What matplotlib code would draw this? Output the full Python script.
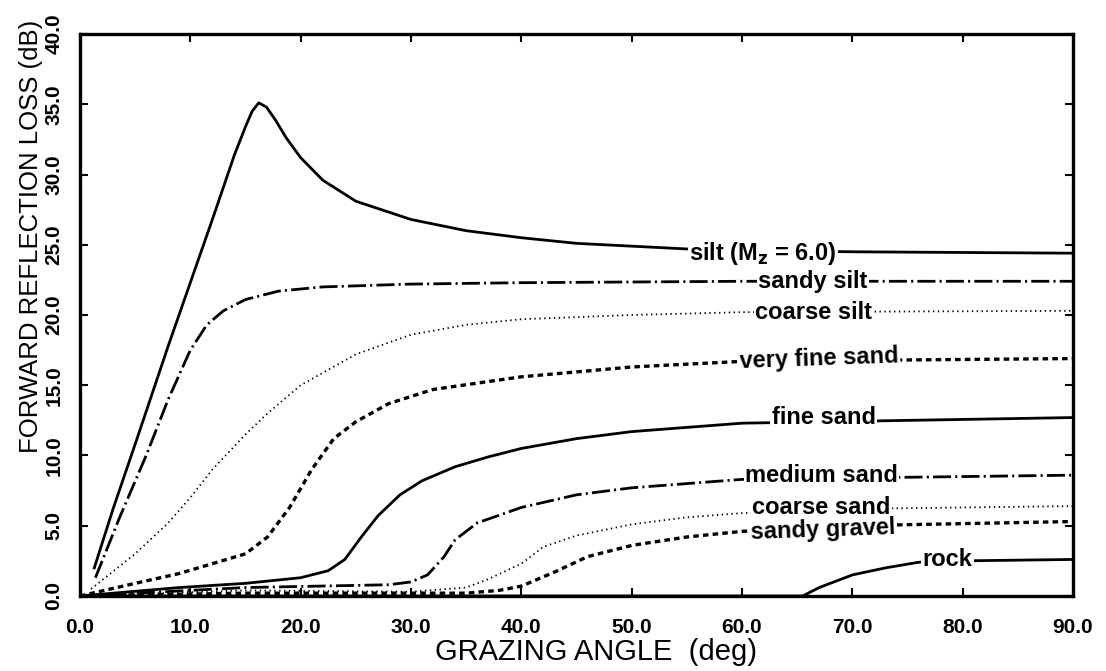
import numpy as np
import matplotlib.pyplot as plt

plt.rcParams['font.family'] = ['Liberation Sans', 'DejaVu Sans']
plt.rcParams['lines.scale_dashes'] = False

# Grazing angle (deg) vs forward reflection loss (dB)
silt_x = [1.3, 3, 5, 8, 10, 12, 13, 14, 15, 15.6, 16.2, 16.9, 17.7, 18.7, 20, 22, 25, 30, 35, 40, 45, 50, 55, 60, 70, 90]
silt_y = [2.0, 6.2, 10.8, 17.8, 22.3, 26.8, 29.1, 31.4, 33.4, 34.5, 35.1, 34.8, 33.9, 32.6, 31.2, 29.6, 28.1, 26.8, 26.0, 25.5, 25.1, 24.9, 24.7, 24.6, 24.5, 24.4]

sandy_silt_x = [1.4, 3.6, 6, 8, 10, 11.5, 13, 15, 18, 22, 30, 40, 60, 90]
sandy_silt_y = [1.3, 5.6, 10.0, 14.0, 17.5, 19.3, 20.3, 21.1, 21.7, 22.0, 22.2, 22.3, 22.4, 22.4]

coarse_silt_x = [1, 5, 8, 10, 12, 15, 17, 20, 25, 30, 35, 40, 50, 60, 90]
coarse_silt_y = [0.5, 3.0, 5.2, 7.0, 9.0, 11.5, 13.0, 15.0, 17.2, 18.6, 19.3, 19.7, 20.0, 20.2, 20.3]

vf_sand_x = [0, 5, 9, 15, 17, 19, 21, 23, 25, 28, 32, 40, 50, 60, 90]
vf_sand_y = [0.0, 0.9, 1.6, 3.0, 4.2, 6.3, 9.0, 11.2, 12.4, 13.7, 14.7, 15.6, 16.3, 16.7, 16.9]

fine_sand_x = [0, 9, 15, 20, 22.5, 24, 25.5, 27, 29, 31, 34, 37, 40, 45, 50, 55, 60, 90]
fine_sand_y = [0.0, 0.6, 0.9, 1.3, 1.8, 2.6, 4.2, 5.7, 7.2, 8.2, 9.2, 9.9, 10.5, 11.2, 11.7, 12.0, 12.3, 12.7]

med_sand_x = [0, 15, 28, 30, 31.5, 33, 34, 36, 40, 45, 50, 55, 60, 90]
med_sand_y = [0.0, 0.6, 0.8, 1.0, 1.5, 2.8, 4.0, 5.2, 6.3, 7.2, 7.7, 8.0, 8.3, 8.6]

coarse_sand_x = [0, 15, 30, 35, 37, 40, 42, 45, 50, 55, 60, 70, 90]
coarse_sand_y = [0.0, 0.4, 0.3, 0.6, 1.2, 2.3, 3.5, 4.3, 5.1, 5.6, 5.9, 6.2, 6.4]

sandy_gravel_x = [0, 15, 35, 38, 40, 43, 46, 50, 55, 60, 70, 90]
sandy_gravel_y = [0.0, 0.2, 0.2, 0.4, 0.7, 1.7, 2.8, 3.6, 4.2, 4.6, 5.0, 5.3]

rock_x = [0, 65.5, 67, 70, 73, 76, 80, 90]
rock_y = [0.0, 0.0, 0.6, 1.5, 2.0, 2.4, 2.5, 2.6]

xticks = [0, 10, 20, 30, 40, 50, 60, 70, 80, 90]
yticks = [0, 5, 10, 15, 20, 25, 30, 35, 40]

LONG_DASH_DOT = (0, (13, 3, 1.5, 3))
DOTS = (0, (1, 2.5))
SHORT_DASH = (0, (4, 3))

fig = plt.figure(figsize=(11.06, 6.71), dpi=100)
ax = fig.add_axes([0.0723, 0.1118, 0.8979, 0.8375])

ax.plot(silt_x, silt_y, color='black', lw=2.0, ls='-')
ax.plot(sandy_silt_x, sandy_silt_y, color='black', lw=2.0, ls=LONG_DASH_DOT)
ax.plot(coarse_silt_x, coarse_silt_y, color='black', lw=1.3, ls=DOTS)
ax.plot(vf_sand_x, vf_sand_y, color='black', lw=2.4, ls=SHORT_DASH)
ax.plot(fine_sand_x, fine_sand_y, color='black', lw=2.0, ls='-')
ax.plot(med_sand_x, med_sand_y, color='black', lw=2.0, ls=LONG_DASH_DOT)
ax.plot(coarse_sand_x, coarse_sand_y, color='black', lw=1.3, ls=DOTS)
ax.plot(sandy_gravel_x, sandy_gravel_y, color='black', lw=2.4, ls=SHORT_DASH)
ax.plot(rock_x, rock_y, color='black', lw=2.0, ls='-')

# curve labels sit on the lines, masking them
box = dict(facecolor='white', edgecolor='none', pad=1.0)
lab = dict(fontsize=17, fontweight='bold', ha='center', va='center', bbox=box, zorder=5)
ax.text(61.9, 24.4, 'silt (M$_\\mathbf{z}$ = 6.0)', **lab)
ax.text(66.4, 22.4, 'sandy silt', **lab)
ax.text(66.5, 20.2, 'coarse silt', **lab)
ax.text(67.0, 16.9, 'very fine sand', rotation=2, **lab)
ax.text(67.4, 12.7, 'fine sand', **lab)
ax.text(67.2, 8.6, 'medium sand', **lab)
ax.text(67.2, 6.3, 'coarse sand', **lab)
ax.text(67.3, 4.7, 'sandy gravel', rotation=2, **lab)
ax.text(78.6, 2.6, 'rock', **lab)

ax.set_xlim(0, 90)
ax.set_ylim(0, 40)
ax.set_xticks(xticks)
ax.set_xticklabels([f'{v:.1f}' for v in xticks], fontweight='bold')
ax.set_yticks(yticks)
ax.set_yticklabels([f'{v:.1f}' for v in yticks], rotation=90, va='center',
                   fontweight='bold')
ax.tick_params(direction='in', length=6, width=1.5, top=True, right=True,
               labelsize=15)
ax.tick_params(axis='x', pad=16)
ax.tick_params(axis='y', pad=12)
for s in ax.spines.values():
    s.set_linewidth(2.4)

ax.set_xlabel('GRAZING ANGLE  (deg)', fontsize=21)
ax.xaxis.set_label_coords(0.52, -0.075)
ax.set_ylabel('FORWARD REFLECTION LOSS (dB)', fontsize=18.5)
ax.yaxis.set_label_coords(-0.037, 0.64)

fig.savefig('out.png', dpi=100)
